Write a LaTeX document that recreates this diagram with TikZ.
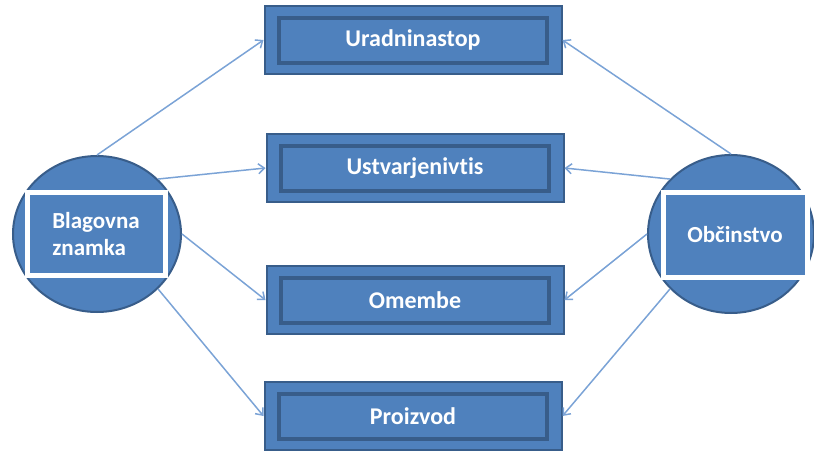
\documentclass[tikz,border=0pt]{standalone}
\usepackage{fontspec}
\setmainfont[Ligatures={NoCommon}]{Carlito}
\usetikzlibrary{shapes.geometric,arrows.meta}
\definecolor{boxblue}{HTML}{4F81BD}
\definecolor{boxdark}{HTML}{385D8A}
\definecolor{arrowblue}{HTML}{7BA3D6}
\tikzset{
  outerbox/.style={rectangle, draw=boxdark, line width=2pt, fill=boxblue,
    minimum width=297pt, minimum height=68pt, inner sep=0pt},
  innerbox/.style={rectangle, draw=boxdark, line width=4pt, fill=boxblue,
    minimum width=268pt, minimum height=45pt, inner sep=0pt,
    text=white, font=\fontsize{24}{27}\selectfont\bfseries},
  bigcircle/.style={ellipse, draw=boxdark, line width=2pt, fill=boxblue,
    minimum width=168pt, minimum height=156pt, inner sep=0pt},
  whitebox/.style={rectangle, draw=white, line width=5pt, fill=boxblue,
    inner sep=0pt, text=white, font=\fontsize{23}{27}\selectfont\bfseries},
  conn/.style={draw=arrowblue, line width=1.5pt,
    -{Straight Barb[length=6pt,width=10pt]}}
}
\begin{document}
\begin{tikzpicture}[x=1pt,y=-1pt]
\useasboundingbox (0,0) rectangle (814,450);
% boxes
\node[outerbox] (B1) at (413,40) {};
\node[innerbox] (I1) at (B1.center) {Uradninastop};
\node[outerbox] (B2) at (415,168) {};
\node[innerbox] (I2) at (B2.center) {Ustvarjenivtis};
\node[outerbox] (B3) at (415,300) {};
\node[innerbox] (I3) at (B3.center) {Omembe};
\node[outerbox] (B4) at (413,416) {};
\node[innerbox] (I4) at (B4.center) {Proizvod};
% circles
\node[bigcircle] (L) at (97,234) {};
\node[whitebox, minimum width=138pt, minimum height=83pt, align=left] (LT) at (96,234) {Blagovna\\znamka};
\node[bigcircle, minimum width=166pt, minimum height=158pt] (R) at (731,234) {};
\node[whitebox, minimum width=144pt, minimum height=85pt] (RT) at (735,235) {Občinstvo};
% connectors
\draw[conn] (L.90) -- (B1.west);
\draw[conn] (L.42) -- (B2.west);
\draw[conn] (L.0) -- (B3.west);
\draw[conn] (L.-42) -- (B4.west);
\draw[conn] (R.90) -- (B1.east);
\draw[conn] (R.138) -- (B2.east);
\draw[conn] (R.180) -- (B3.east);
\draw[conn] (R.-138) -- (B4.east);
\end{tikzpicture}
\end{document}
